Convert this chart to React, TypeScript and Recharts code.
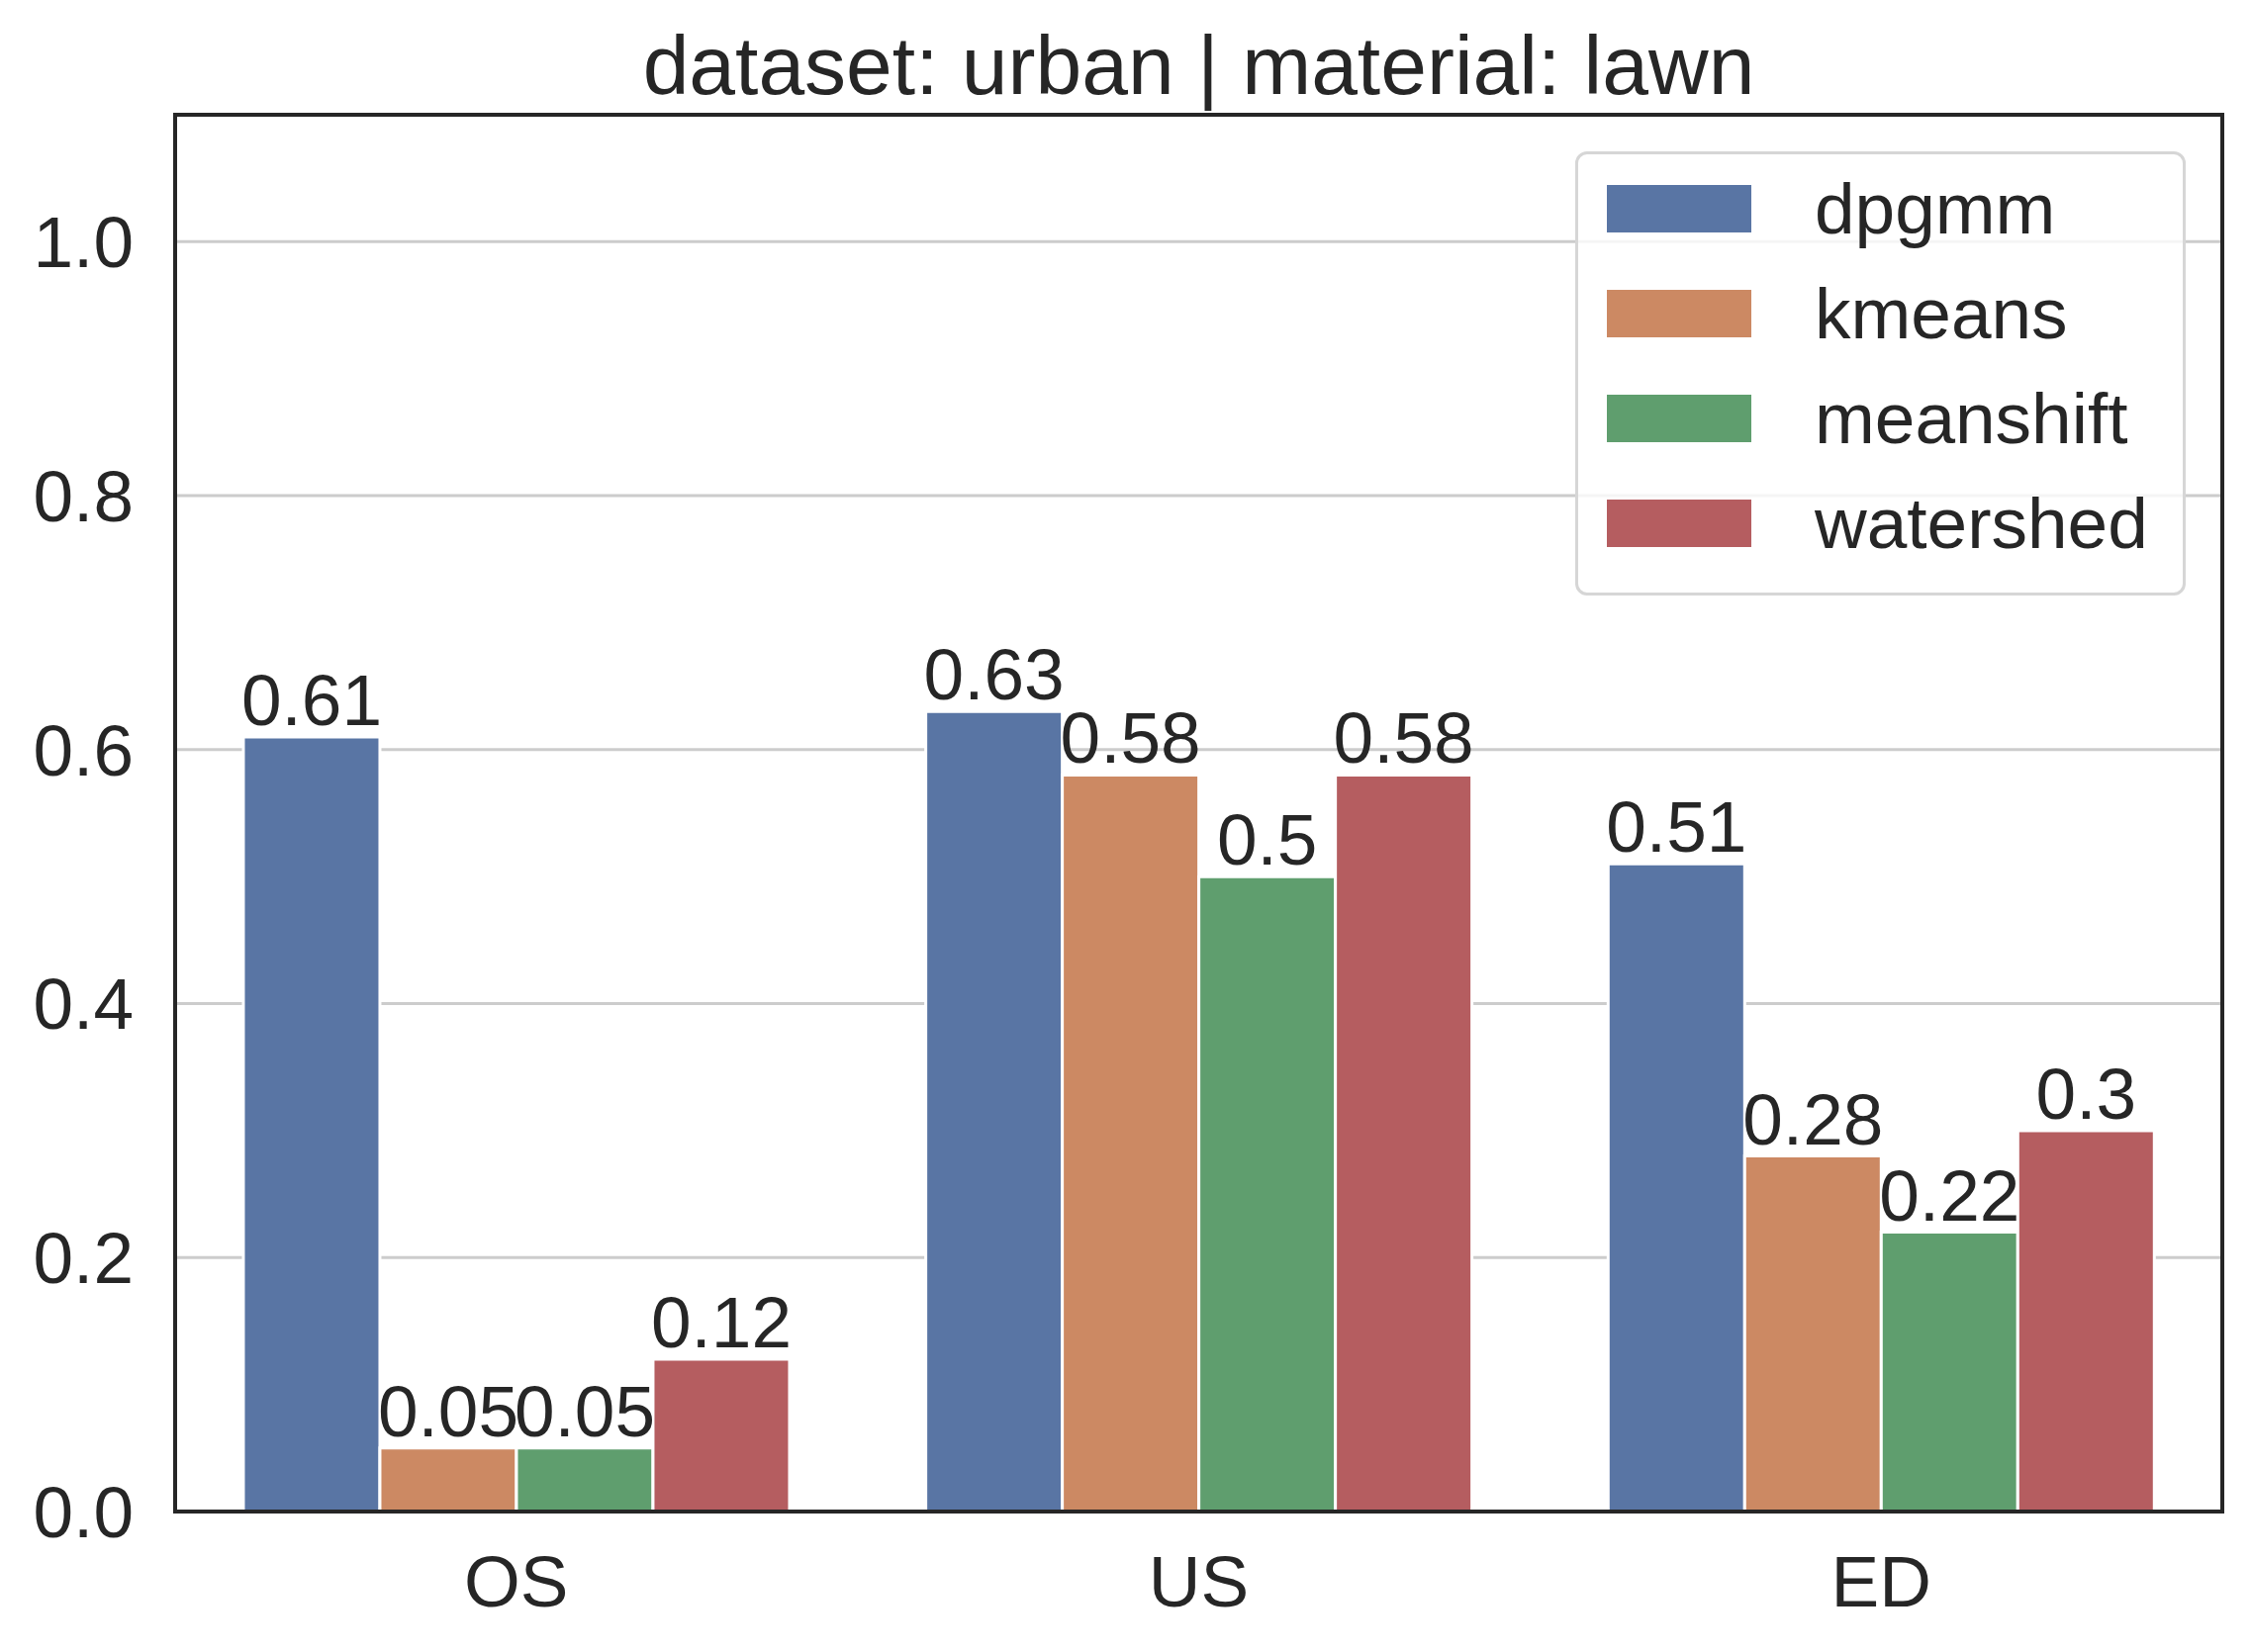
import { Bar, BarChart, CartesianGrid, LabelList, XAxis, YAxis } from "recharts";

const categories = ["OS", "US", "ED"];
const methods = ["dpgmm", "kmeans", "meanshift", "watershed"];
const dpgmm = [0.61, 0.63, 0.51];
const kmeans = [0.05, 0.58, 0.28];
const meanshift = [0.05, 0.5, 0.22];
const watershed = [0.12, 0.58, 0.3];
const yTicks = [0, 0.2, 0.4, 0.6, 0.8, 1.0];
const colors = ["#5975a4", "#cc8963", "#5f9e6e", "#b55d60"];

const data = categories.map((name, i) => ({
  name,
  dpgmm: dpgmm[i],
  kmeans: kmeans[i],
  meanshift: meanshift[i],
  watershed: watershed[i],
}));

const font = "'Liberation Sans', Arial, sans-serif";
const ink = "#262626";

function LegendBox() {
  return (
    <div
      style={{
        position: "absolute",
        left: 1592,
        top: 153,
        boxSizing: "border-box",
        width: 617,
        height: 449,
        border: "3px solid #d6d6d6",
        borderRadius: 12,
        background: "rgba(255,255,255,0.8)",
        fontFamily: font,
      }}
    >
      {methods.map((m, i) => (
        <div key={m} style={{ position: "absolute", left: 0, top: 2 + i * 106, height: 106, display: "flex", alignItems: "center" }}>
          <div style={{ width: 146, height: 48, background: colors[i], marginLeft: 29 }} />
          <span style={{ marginLeft: 64, fontSize: 73, color: ink, lineHeight: "106px" }}>{m}</span>
        </div>
      ))}
    </div>
  );
}

export default function App() {
  return (
    <div style={{ position: "relative", width: 2275, height: 1670, background: "#fff" }}>
      <style>{"body{margin:0}"}</style>
      <div
        style={{
          position: "absolute",
          left: 177,
          width: 2069,
          top: 0,
          height: 92,
          display: "flex",
          alignItems: "flex-end",
          justifyContent: "center",
          fontFamily: font,
          fontSize: 84,
          color: ink,
          lineHeight: "84px",
        }}
      >
        <span style={{ position: "relative", top: 16 }}>dataset: urban | material: lawn</span>
      </div>
      <BarChart
        width={2275}
        height={1670}
        data={data}
        margin={{ top: 116, right: 29, left: 0, bottom: 0 }}
        barCategoryGap="10%"
        barGap={0}
      >
        <CartesianGrid vertical={false} stroke="#cccccc" strokeWidth={3} />
        <XAxis
          dataKey="name"
          height={142}
          axisLine={false}
          tickLine={false}
          tickSize={0}
          tickMargin={44}
          tick={{ fill: ink, fontSize: 73, fontFamily: font }}
        />
        <YAxis
          width={177}
          domain={[0, 1.1]}
          ticks={yTicks}
          allowDataOverflow
          axisLine={false}
          tickLine={false}
          tickSize={0}
          tickMargin={42}
          tickFormatter={(v) => Number(v).toFixed(1)}
          tick={{ fill: ink, fontSize: 73, fontFamily: font }}
        />
        {methods.map((m, i) => (
          <Bar key={m} dataKey={m} fill={colors[i]} stroke="#ffffff" strokeWidth={3} isAnimationActive={false}>
            <LabelList dataKey={m} position="top" offset={12} fill={ink} fontSize={73} fontFamily={font} />
          </Bar>
        ))}
      </BarChart>
      <div
        style={{
          position: "absolute",
          left: 175,
          top: 114,
          width: 2065,
          height: 1408,
          border: `4px solid ${ink}`,
          pointerEvents: "none",
          boxSizing: "content-box",
        }}
      />
      <LegendBox />
    </div>
  );
}
